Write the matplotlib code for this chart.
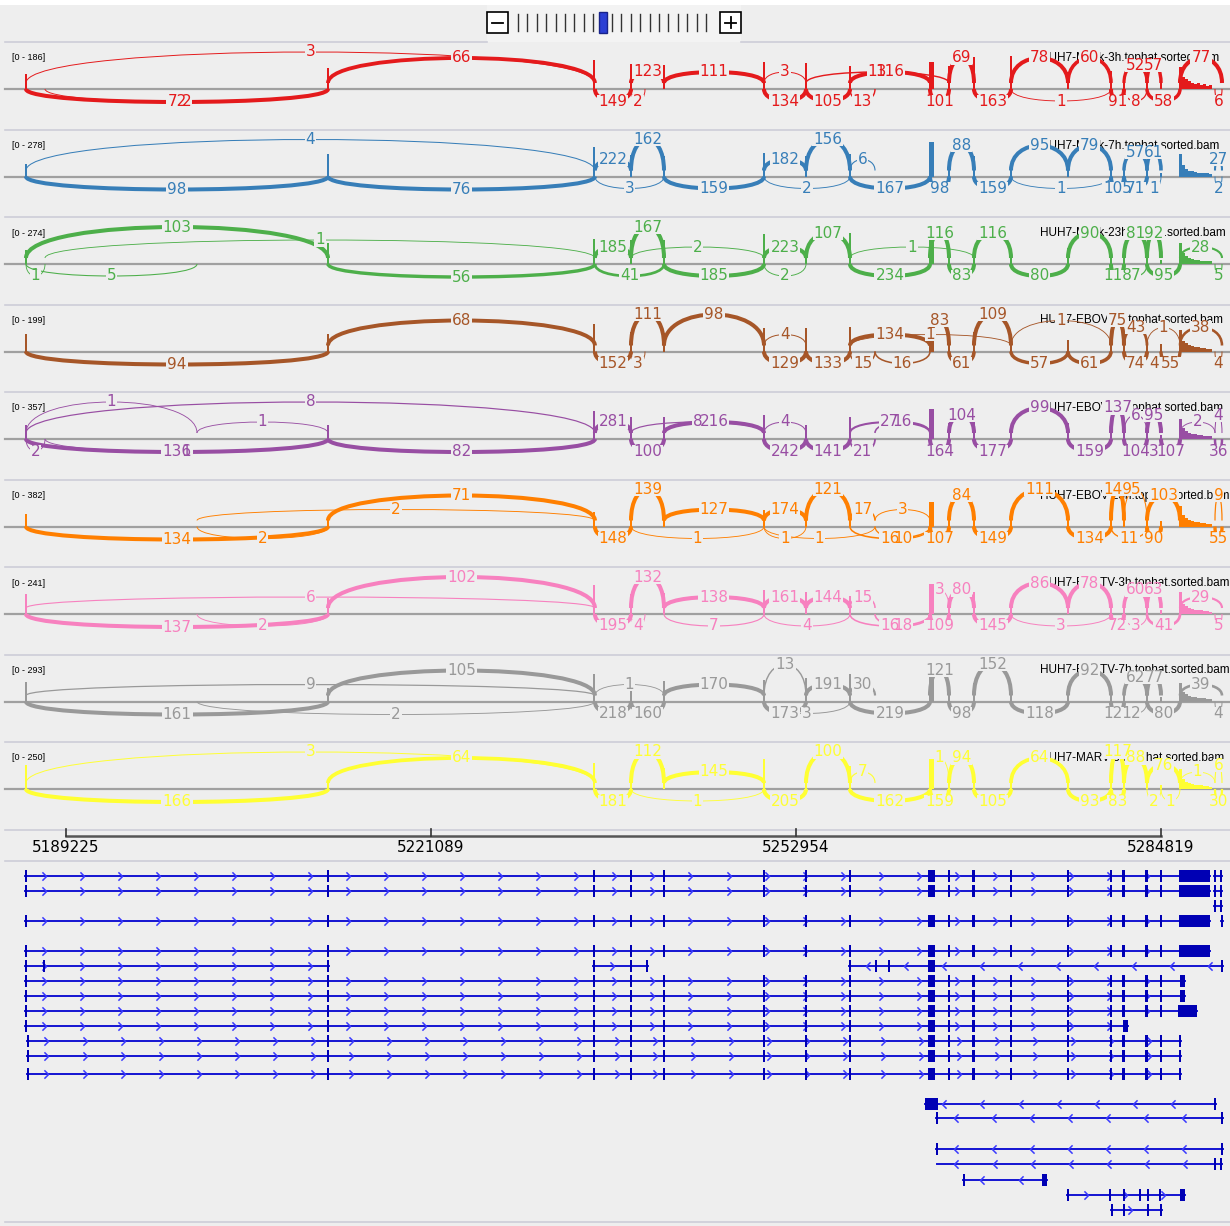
import numpy as np
import matplotlib.pyplot as plt
from matplotlib.path import Path
from matplotlib.patches import PathPatch, Rectangle

W, H = 1230, 1226
view_start, view_end = 5183463, 5290843
bp_px = (view_end - view_start) / W

ruler_ticks = [5189225, 5221089, 5252954, 5284819]

# splice sites used by junction arcs (genomic)
sites = [5185733, 5187392, 5212098, 5235400, 5238550, 5239772, 5241430, 5250160,
         5253827, 5257668, 5259851, 5264652, 5266311, 5268493, 5271724, 5276700,
         5280454, 5281588, 5283596, 5284819, 5286477, 5289533, 5290144, 5200661]

# exon centres / widths (bp) for coverage
exon_pos = [5185733, 5212098, 5235319, 5238550, 5241430, 5250160, 5253827, 5257668,
            5264784, 5266311, 5268493, 5271724, 5276700, 5280454, 5281588, 5283596, 5284819]
exon_w = [175] * 8 + [400] + [175] * 8
utr_start, utr_bin = 5286390, 262

track_names = ['HUH7-Mock-3h.tophat.sorted.bam', 'HUH7-Mock-7h.tophat.sorted.bam',
               'HUH7-Mock-23h.tophat.sorted.bam', 'HUH7-EBOV-3h.tophat.sorted.bam',
               'HUH7-EBOV-7h.tophat.sorted.bam', 'HUH7-EBOV-23h.tophat.sorted.bam',
               'HUH7-RESTV-3h.tophat.sorted.bam', 'HUH7-RESTV-7h.tophat.sorted.bam',
               'HUH7-MARV-3h.tophat.sorted.bam']
track_max = [186, 278, 274, 199, 357, 382, 241, 293, 250]
colors = ['#e41a1c', '#377eb8', '#4daf4a', '#a65628', '#984ea3',
          '#ff7f00', '#f781bf', '#999999', '#ffff33']

coverage = [
    [75, 110, 150, 130, 125, 140, 135, 120, 140, 120, 165, 170, 90, 95, 60, 60, 60],
    [100, 175, 230, 165, 160, 185, 160, 170, 270, 100, 160, 95, 80, 105, 70, 60, 30],
    [105, 160, 190, 185, 185, 225, 110, 235, 250, 85, 116, 90, 118, 80, 95, 95, 30],
    [95, 95, 150, 110, 100, 130, 130, 135, 140, 80, 110, 60, 65, 75, 45, 55, 40],
    [140, 135, 280, 220, 220, 240, 140, 215, 300, 160, 175, 100, 160, 140, 100, 110, 40],
    [135, 75, 150, 140, 130, 175, 125, 120, 260, 110, 150, 110, 135, 150, 105, 105, 60],
    [137, 105, 195, 135, 140, 160, 145, 120, 200, 110, 145, 86, 80, 75, 60, 60, 30],
    [160, 110, 220, 160, 170, 175, 190, 220, 250, 120, 150, 120, 95, 120, 80, 80, 40],
    [165, 65, 180, 115, 145, 205, 100, 160, 210, 95, 105, 65, 93, 115, 85, 75, 30],
]
utr_cov = [
    [115, 60, 50, 40, 30, 25, 30, 20, 25, 15, 20],
    [170, 90, 60, 45, 40, 35, 30, 30, 25, 25, 20],
    [160, 80, 60, 45, 35, 30, 30, 25, 25, 20, 20],
    [120, 60, 45, 35, 30, 25, 25, 20, 20, 15, 15],
    [200, 110, 80, 60, 50, 45, 40, 35, 30, 30, 25],
    [220, 120, 90, 70, 60, 50, 45, 40, 35, 30, 30],
    [150, 70, 55, 40, 35, 30, 25, 25, 20, 20, 15],
    [150, 80, 60, 45, 40, 35, 30, 25, 25, 20, 20],
    [140, 70, 50, 40, 35, 30, 25, 25, 20, 20, 15],
]

# (site a, site b, read count, lane)
junctions = [
    [(0, 3, 3, 'a4'), (2, 3, 66, 'a3'), (4, 6, 123, 'a1'), (6, 7, 111, 'a1'), (7, 8, 3, 'a1'),
     (9, 11, 116, 'a1'), (8, 12, 13, 'a1'), (12, 13, 69, 'a3'), (14, 15, 78, 'a3'), (15, 16, 60, 'a3'),
     (17, 18, 52, 'a2'), (18, 19, 57, 'a2'), (20, 22, 77, 'a3'),
     (0, 2, 72, 'b'), (1, 2, 2, 'b'), (3, 4, 149, 'b'), (4, 5, 2, 'b'), (7, 8, 134, 'b'), (8, 9, 105, 'b'),
     (9, 10, 13, 'b'), (11, 12, 101, 'b'), (13, 14, 163, 'b'), (14, 16, 1, 'b'), (16, 17, 91, 'b'),
     (17, 18, 8, 'b'), (18, 20, 58, 'b'), (21, 22, 6, 'b')],
    [(0, 3, 4, 'a4'), (3, 4, 222, 'a1'), (4, 6, 162, 'a4'), (7, 8, 182, 'a1'), (8, 9, 156, 'a4'),
     (9, 10, 6, 'a1'), (12, 13, 88, 'a3'), (14, 15, 95, 'a3'), (15, 16, 79, 'a3'), (17, 18, 57, 'a2'),
     (18, 19, 61, 'a2'), (21, 22, 27, 'a1'),
     (0, 2, 98, 'b'), (2, 3, 76, 'b'), (3, 6, 3, 'b'), (6, 7, 159, 'b'), (7, 9, 2, 'b'), (9, 11, 167, 'b'),
     (11, 12, 98, 'b'), (13, 14, 159, 'b'), (14, 16, 1, 'b'), (16, 17, 105, 'b'), (17, 18, 71, 'b'),
     (18, 19, 1, 'b'), (21, 22, 2, 'b')],
    [(0, 2, 103, 'a4'), (1, 3, 1, 'a2'), (3, 4, 185, 'a1'), (4, 6, 167, 'a4'), (4, 7, 2, 'a1'),
     (7, 8, 223, 'a1'), (8, 9, 107, 'a3'), (9, 13, 1, 'a1'), (11, 12, 116, 'a3'), (13, 14, 116, 'a3'),
     (15, 16, 90, 'a3'), (17, 18, 81, 'a3'), (18, 19, 92, 'a3'), (20, 22, 28, 'a1'),
     (0, 1, 1, 'b'), (0, 23, 5, 'b'), (2, 3, 56, 'b'), (3, 6, 41, 'b'), (6, 7, 185, 'b'), (7, 8, 2, 'b'),
     (9, 11, 234, 'b'), (12, 13, 83, 'b'), (14, 15, 80, 'b'), (16, 17, 118, 'b'), (17, 18, 7, 'b'),
     (18, 20, 95, 'b'), (21, 22, 5, 'b')],
    [(2, 3, 68, 'a3'), (4, 6, 111, 'a4'), (6, 7, 98, 'a4'), (7, 8, 4, 'a1'), (9, 11, 134, 'a1'),
     (9, 14, 1, 'a1'), (11, 12, 83, 'a3'), (13, 14, 109, 'a4'), (14, 16, 1, 'a3'), (16, 17, 75, 'a3'),
     (17, 18, 43, 'a2'), (18, 20, 1, 'a2'), (20, 22, 38, 'a2'),
     (0, 2, 94, 'b'), (3, 4, 152, 'b'), (4, 5, 3, 'b'), (7, 8, 129, 'b'), (8, 9, 133, 'b'), (9, 10, 15, 'b'),
     (10, 11, 16, 'b'), (12, 13, 61, 'b'), (14, 15, 57, 'b'), (15, 16, 61, 'b'), (17, 18, 74, 'b'),
     (18, 19, 4, 'b'), (19, 20, 55, 'b'), (21, 22, 4, 'b')],
    [(0, 3, 8, 'a4'), (0, 23, 1, 'a4'), (23, 2, 1, 'a1'), (3, 4, 281, 'a1'), (4, 7, 8, 'a1'),
     (6, 7, 216, 'a1'), (7, 8, 4, 'a1'), (9, 11, 27, 'a1'), (10, 11, 16, 'a1'), (12, 13, 104, 'a2'),
     (14, 15, 99, 'a3'), (16, 17, 137, 'a3'), (17, 18, 6, 'a2'), (18, 19, 95, 'a2'), (20, 21, 2, 'a1'),
     (21, 22, 4, 'a2'),
     (0, 1, 2, 'b'), (0, 2, 136, 'b'), (1, 2, 1, 'b'), (2, 3, 82, 'b'), (4, 6, 100, 'b'), (7, 8, 242, 'b'),
     (8, 9, 141, 'b'), (9, 10, 21, 'b'), (11, 12, 164, 'b'), (13, 14, 177, 'b'), (15, 16, 159, 'b'),
     (17, 18, 104, 'b'), (18, 19, 3, 'b'), (19, 20, 107, 'b'), (21, 22, 36, 'b')],
    [(23, 3, 2, 'a1'), (2, 3, 71, 'a3'), (4, 6, 139, 'a4'), (6, 7, 127, 'a1'), (7, 8, 174, 'a1'),
     (8, 9, 121, 'a4'), (9, 10, 17, 'a1'), (10, 11, 3, 'a1'), (12, 13, 84, 'a3'), (14, 15, 111, 'a4'),
     (16, 17, 149, 'a4'), (17, 18, 5, 'a4'), (18, 20, 103, 'a3'), (21, 22, 9, 'a3'),
     (0, 2, 134, 'b'), (23, 2, 2, 'b'), (3, 4, 148, 'b'), (4, 7, 1, 'b'), (7, 8, 1, 'b'), (7, 10, 1, 'b'),
     (9, 11, 16, 'b'), (10, 11, 10, 'b'), (11, 12, 107, 'b'), (13, 14, 149, 'b'), (15, 16, 134, 'b'),
     (16, 18, 11, 'b'), (18, 19, 90, 'b'), (21, 22, 55, 'b')],
    [(0, 3, 6, 'a1'), (2, 3, 102, 'a4'), (4, 6, 132, 'a4'), (6, 7, 138, 'a1'), (7, 8, 161, 'a1'),
     (8, 9, 144, 'a1'), (9, 10, 15, 'a1'), (11, 12, 3, 'a2'), (12, 13, 80, 'a2'), (14, 15, 86, 'a3'),
     (15, 16, 78, 'a3'), (17, 18, 60, 'a2'), (18, 19, 63, 'a2'), (20, 22, 29, 'a1'),
     (0, 2, 137, 'b'), (23, 2, 2, 'b'), (3, 4, 195, 'b'), (4, 5, 4, 'b'), (6, 7, 7, 'b'), (7, 9, 4, 'b'),
     (9, 11, 16, 'b'), (10, 11, 18, 'b'), (11, 12, 109, 'b'), (13, 14, 145, 'b'), (14, 16, 3, 'b'),
     (16, 17, 72, 'b'), (17, 18, 3, 'b'), (18, 20, 41, 'b'), (21, 22, 5, 'b')],
    [(0, 3, 9, 'a1'), (2, 3, 105, 'a3'), (3, 6, 1, 'a1'), (6, 7, 170, 'a1'), (7, 8, 13, 'a4'),
     (8, 9, 191, 'a1'), (9, 10, 30, 'a1'), (11, 12, 121, 'a3'), (13, 14, 152, 'a4'), (15, 16, 92, 'a3'),
     (17, 18, 62, 'a2'), (18, 19, 77, 'a2'), (20, 22, 39, 'a1'),
     (0, 2, 161, 'b'), (23, 3, 2, 'b'), (3, 4, 218, 'b'), (4, 6, 160, 'b'), (7, 8, 173, 'b'), (7, 9, 3, 'b'),
     (9, 11, 219, 'b'), (12, 13, 98, 'b'), (14, 15, 118, 'b'), (16, 17, 121, 'b'), (17, 18, 2, 'b'),
     (18, 20, 80, 'b'), (21, 22, 4, 'b')],
    [(0, 3, 3, 'a4'), (2, 3, 64, 'a3'), (4, 6, 112, 'a4'), (6, 7, 145, 'a1'), (8, 9, 100, 'a4'),
     (9, 10, 7, 'a1'), (11, 12, 1, 'a3'), (12, 13, 94, 'a3'), (14, 15, 64, 'a3'), (16, 17, 117, 'a4'),
     (17, 18, 88, 'a3'), (18, 20, 76, 'a2'), (20, 21, 1, 'a1'), (21, 22, 6, 'a2'),
     (0, 2, 166, 'b'), (3, 4, 181, 'b'), (4, 7, 1, 'b'), (7, 8, 205, 'b'), (9, 11, 162, 'b'), (11, 12, 159, 'b'),
     (13, 14, 105, 'b'), (15, 16, 93, 'b'), (16, 17, 83, 'b'), (18, 19, 2, 'b'), (19, 20, 1, 'b'),
     (21, 22, 30, 'b')],
]

# gene model: (strand, exons as (start, end))
core = [(p - 130, p + 130) if w < 300 else (p - 305, p + 305) for p, w in zip(exon_pos, exon_w)]
utr_big = (5286390, 5289096)
transcripts = [
    ('+', core + [utr_big]),
    ('+', [(5289450, 5289620), (5289970, 5290140)]),
    ('+', core + [utr_big]),
    ('+', [(5289450, 5289620), (5289970, 5290140)]),
    ('+', [(5289450, 5289620), (5289970, 5290140)]),
    ('+', core + [utr_big]),
    ('+', [(5290060, 5290230)]),
    ('+', core + [utr_big]),
    ('+', [core[0], (5187220, 5187390), core[1]]),
    ('+', [core[2], core[3], (5239860, 5240030)]),
    ('-', [core[7], (5259850, 5260020), (5260990, 5261160), core[8], (5290060, 5290230)]),
    ('+', core + [(5286477, 5286914)]),
    ('+', core + [(5286477, 5286914)]),
    ('+', core + [(5286303, 5287962)]),
    ('+', core[:14] + [(5281501, 5281937)]),
    ('+', [(5185820, 5185990)] + core[1:] + [(5286390, 5286560)]),
    ('+', [(5185820, 5185990)] + core[1:] + [(5286390, 5286560)]),
    ('+', [(5185820, 5185990)] + core[1:] + [(5286390, 5286560)]),
    ('-', [(5264216, 5265351), (5289450, 5289620)]),
    ('-', [(5265180, 5265350), (5290060, 5290230)]),
    ('-', [(5265180, 5265350), (5290060, 5290230)]),
    ('-', [(5265264, 5265264), (5289450, 5289620), (5289970, 5290140)]),
    ('-', [(5267535, 5267705), (5274430, 5274866)]),
    ('+', [(5276615, 5276785), (5280280, 5280450), (5281500, 5281670), (5282900, 5283070),
           (5283600, 5283770), (5284645, 5284815), (5286477, 5286914)]),
    ('+', [(5280455, 5280625), (5281500, 5281670), (5283600, 5283770), (5284735, 5284905)]),
]
tx_row = [876, 876, 891, 891, 906, 921, 921, 951, 966, 966, 966, 981, 996, 1011, 1026,
          1041, 1056, 1074, 1104, 1118, 1149, 1164, 1180, 1195, 1210]

bg = '#eeeeee'
fig = plt.figure(figsize=(W / 100, H / 100), dpi=100, facecolor='white')
ui = fig.add_axes([0, 0, 1, 1])
ui.set_xlim(0, W)
ui.set_ylim(H, 0)
ui.axis('off')
ax = fig.add_axes([0, 0, 1, 1])
ax.set_xlim(view_start, view_end)
ax.set_ylim(H, 0)
ax.axis('off')
ax.patch.set_alpha(0)

ui.add_patch(Rectangle((0, 5), W, H - 5, fc=bg, ec='none', zorder=0))
sep_col = '#cdcdd8'

# zoom widget
ui.add_patch(Rectangle((487, 5), 254, 37, fc='#f3f3f3', ec='none', zorder=0.5))
for bx in (487, 720):
    ui.add_patch(Rectangle((bx, 12), 21, 21, fc='white', ec='black', lw=1.2, zorder=2))
    ui.plot([bx + 5, bx + 16], [22.5, 22.5], color='black', lw=1.3, zorder=3)
ui.plot([730.5, 730.5], [17, 28], color='black', lw=1.3, zorder=3)
for k in range(21):
    x = 518 + 9.4 * k
    if k == 9:
        ui.add_patch(Rectangle((x - 4, 12), 8, 21, fc='#2b3fd4', ec='#18238a', lw=1, zorder=2))
    else:
        ui.plot([x, x], [14, 31], color='#333333', lw=1, zorder=2)
ui.plot([5, 487], [42, 42], color=sep_col, lw=1.2)
ui.plot([741, W], [42, 42], color=sep_col, lw=1.2)

levels = {'a1': 17, 'a2': 24, 'a3': 31, 'a4': 37}
labels = []

for t in range(9):
    base = 89 + 87.5 * t
    sep = base - 47
    c = colors[t]
    if t > 0:
        ui.plot([5, W], [sep, sep], color=sep_col, lw=1.2, zorder=1)
    ui.plot([5, W], [base, base], color='#a0a0a0', lw=1.6, zorder=1)
    ui.text(12, sep + 16, f'[0 - {track_max[t]}]', fontsize=6.5, family='Liberation Sans',
            va='center', zorder=2)
    ui.text(1040, sep + 16, track_names[t], fontsize=8.5, family='Liberation Sans',
            va='center', zorder=2)

    sc = 36 / track_max[t]
    ax.bar(exon_pos, [-v * sc for v in coverage[t]], width=exon_w, bottom=base,
           color=c, zorder=1.5)
    ux = [utr_start + i * utr_bin for i in range(len(utr_cov[t]))]
    ax.bar(ux, [-v * sc for v in utr_cov[t]], width=utr_bin * 0.9, bottom=base,
           align='edge', color=c, zorder=1.5)

    for a, b, n, lane in junctions[t]:
        x1, x2 = sites[a], sites[b]
        lw = 0.6 + 2.3 * min(1, n / 70)
        if lane == 'b':
            span_px = abs(x2 - x1) / bp_px
            h = 13 if span_px > 200 else 12
            ys, yc, ylab = base, base + h * 4 / 3, base + h
        else:
            h = levels[lane]
            ys = base - 6
            yc = ys - (h - 6) * 4 / 3
            ylab = base - h
        path = Path([(x1, ys), (x1, yc), (x2, yc), (x2, ys)],
                    [Path.MOVETO, Path.CURVE4, Path.CURVE4, Path.CURVE4])
        ax.add_patch(PathPatch(path, fc='none', ec=c, lw=lw, zorder=2))
        labels.append(ax.text((x1 + x2) / 2, ylab, str(n), fontsize=11, color=c,
                              ha='center', va='center', zorder=4))

# ruler
ui.plot([5, W], [829.5, 829.5], color=sep_col, lw=1.2)
ax.plot([ruler_ticks[0], ruler_ticks[-1]], [836, 836], color='#555555', lw=1.8)
for tk in ruler_ticks:
    ax.plot([tk, tk], [829, 836], color='#333333', lw=1.2)
    ax.text(tk, 848, str(tk), fontsize=11, ha='center', va='center', color='black')
ui.plot([5, W], [861, 861], color=sep_col, lw=1.2)
ui.plot([5, W], [1222, 1222], color=sep_col, lw=1.2)

# gene models
chev_r = Path([(-0.5, 1), (0.5, 0), (-0.5, -1)], [Path.MOVETO, Path.LINETO, Path.LINETO])
chev_l = Path([(0.5, 1), (-0.5, 0), (0.5, -1)], [Path.MOVETO, Path.LINETO, Path.LINETO])
for (strand, exons), y in zip(transcripts, tx_row):
    lo = min(e[0] for e in exons)
    hi = max(e[1] for e in exons)
    ax.plot([lo, hi], [y, y], color='#1414d2', lw=1.4, zorder=2)
    if hi - lo > 2500:
        xs = np.arange(lo + 1700, hi - 500, 3320)
        ax.plot(xs, [y] * len(xs), ls='none', marker=chev_r if strand == '+' else chev_l,
                ms=6, mew=1.1, mfc='none', mec='#3a3aff', zorder=2.5)
    for s, e in exons:
        if e - s < 1:
            continue
        ax.add_patch(Rectangle((s, y - 6), e - s, 12, fc='#0000b4', ec='none', zorder=3))

# background boxes behind junction labels (cut the arcs, keep every label visible)
fig.canvas.draw()
rend = fig.canvas.get_renderer()
inv = ax.transData.inverted()
for txt in labels:
    bb = txt.get_window_extent(rend)
    (x0, y0), (x1, y1) = inv.transform([(bb.x0 - 1, bb.y0 + 1), (bb.x1 + 1, bb.y1 - 1)])
    ax.add_patch(Rectangle((x0, min(y0, y1)), x1 - x0, abs(y1 - y0), fc=bg, ec='none', zorder=3))

fig.savefig('out.png', dpi=100, facecolor='white')
